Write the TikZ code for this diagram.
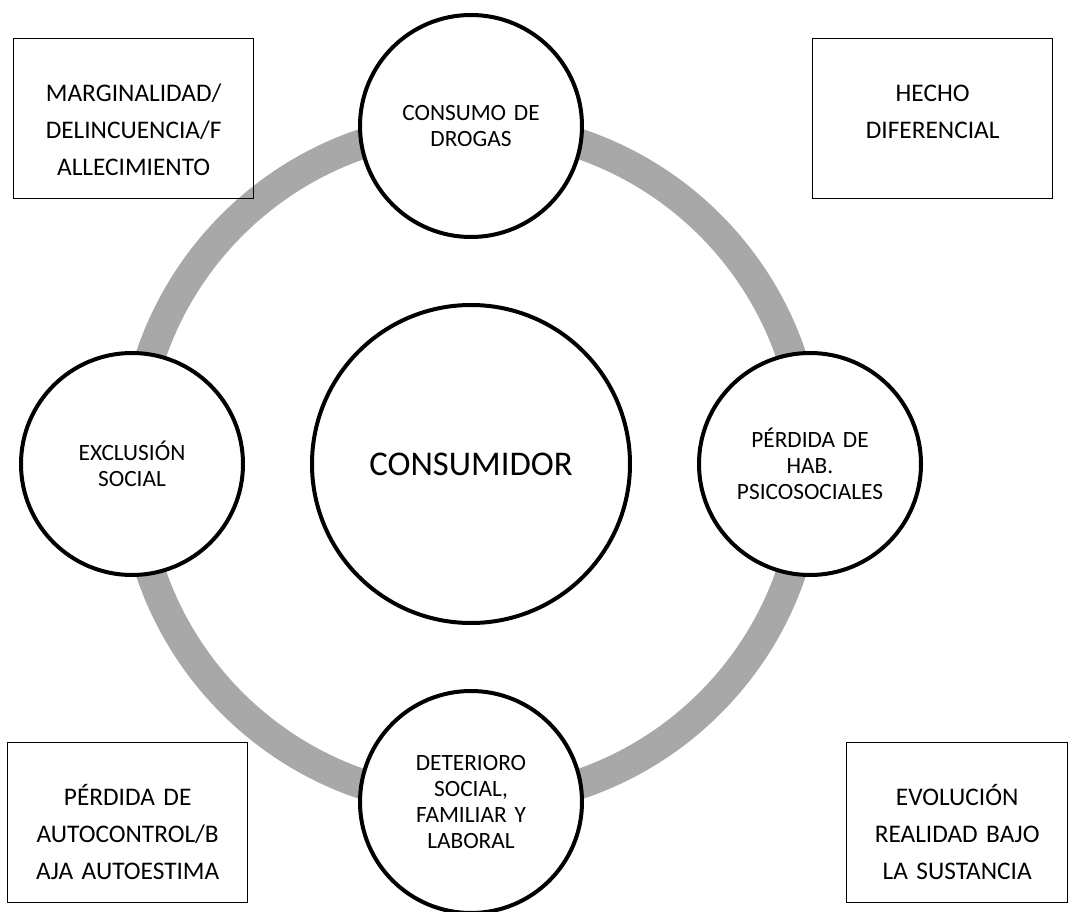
\documentclass[tikz,border=0pt]{standalone}
\usepackage{fontspec}
\setmainfont{Carlito}
\usetikzlibrary{positioning}
\definecolor{ringgray}{RGB}{168,168,168}

\begin{document}
\begin{tikzpicture}[
	x=0.75pt, y=-0.75pt,
	ring/.style = {draw=ringgray, line width=22.5pt},
	circ/.style = {draw, circle, fill=white, line width=3pt, minimum size=166.5pt,
	               inner sep=0pt, text width=150pt, align=center,
	               font=\fontsize{17.5}{19.5}\selectfont},
	hub/.style  = {circ, minimum size=238.5pt, text width=200pt,
	               font=\fontsize{26}{30}\selectfont},
	box/.style  = {draw, line width=1pt, inner sep=0pt, text width=180pt, align=center,
	               text height=47pt, text depth=73pt, anchor=north west,
	               font=\fontsize{19}{27.75}\selectfont}
     ]
\useasboundingbox (0,0) rectangle (1076,912);
\coordinate (c) at (471,464);
%
		\draw[ring] (c) circle[radius=338];
%
		\node (hub) [hub] at (c) {CONSUMIDOR};
		\node (drugs) [circ] at (471,126) {CONSUMO DE\\DROGAS};
		\node (skills) [circ] at (810,464) {PÉRDIDA DE\\HAB.\\PSICOSOCIALES};
		\node (decay) [circ] at (471,802) {DETERIORO\\SOCIAL,\\FAMILIAR Y\\LABORAL};
		\node (excl) [circ] at (132,464) {EXCLUSIÓN\\SOCIAL};
%
		\node (margin) [box] at (13,38) {MARGINALIDAD/\\DELINCUENCIA/F\\ALLECIMIENTO};
		\node (fact) [box] at (812,38) {HECHO\\DIFERENCIAL};
		\node (selfc) [box] at (7,742) {PÉRDIDA DE\\AUTOCONTROL/B\\AJA AUTOESTIMA};
		\node (evol) [box, text width=165.75pt] at (846,742) {EVOLUCIÓN\\REALIDAD BAJO\\LA SUSTANCIA};
\end{tikzpicture}
\end{document}
